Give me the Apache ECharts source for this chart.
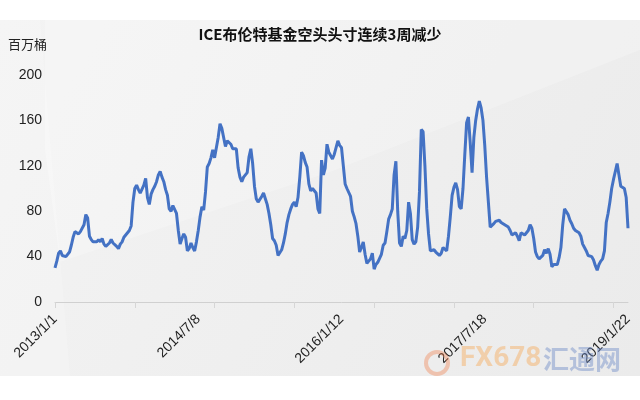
<!DOCTYPE html>
<html>
<head>
<meta charset="utf-8">
<script src="https://cdn.jsdelivr.net/npm/echarts@6/dist/echarts.min.js"></script>
<style>html,body{margin:0;padding:0;background:#fff;}#c{width:640px;height:400px;}</style>
</head>
<body>
<div id="c"></div>
<script>
// Weekly series starting 2013/1/1
var startDate = '2013/1/1';
var values = [
 30,36,43,45,41,40,40,41,44,50,
 57,62,61,60,62,63,68,77,74,58,
 55,53,52,53,55,53,56,51,49,49,
 52,55,52,53,49,47,51,53,57,59,
 61,63,67,88,100,103,99,96,96,103,
 109,92,86,95,99,102,106,112,115,110,
 106,99,94,82,80,85,84,78,63,51,
 56,60,57,45,47,52,48,45,53,63,
 75,84,81,97,119,122,127,134,127,126,
 145,157,153,145,137,142,141,139,135,134,
 135,118,110,106,110,112,114,128,135,122,
 102,91,88,87,93,96,91,86,78,68,
 56,54,50,41,42,46,52,60,70,77,
 82,86,88,84,92,110,132,129,123,119,
 104,98,100,99,96,82,78,125,112,118,
 139,132,131,126,130,136,142,138,136,137,
 104,100,100,93,80,75,69,58,44,48,
 53,42,34,33,38,43,29,33,35,34,
 42,50,52,62,73,77,82,112,124,80,
 52,49,58,56,63,88,78,55,51,53,
 66,97,152,150,120,82,60,45,46,46,
 44,44,41,43,48,48,45,58,75,94,
 101,105,99,84,82,100,130,158,163,140,
 114,145,160,170,177,171,160,138,110,88,
 66,67,69,71,71,72,70,69,68,69,
 66,63,59,60,61,58,54,61,60,59,
 61,63,68,65,56,44,40,38,39,41,
 46,43,47,42,31,33,33,33,39,48,
 68,82,81,77,72,69,65,63,62,61,
 58,51,48,45,41,40,40,37,32,28,
 33,36,38,45,70,78,88,100,108,115,
 122,112,102,103,100,92,65
];
var yTicks = [0, 40, 80, 120, 160, 200];

// category labels: weekly dates
var categories = [];
(function(){
  var p = startDate.split('/');
  var d = new Date(+p[0], +p[1]-1, +p[2]);
  for (var i = 0; i < values.length; i++) {
    var t = new Date(d.getFullYear(), d.getMonth(), d.getDate() + 7*i);
    categories.push(t.getFullYear() + '/' + (t.getMonth()+1) + '/' + t.getDate());
  }
})();

var chart = echarts.init(document.getElementById('c'), null, {renderer:'canvas'});
chart.setOption({
  animation: false,
  backgroundColor: '#ffffff',
  graphic: [
    {type:'rect', z:-10, silent:true, shape:{x:0,y:20,width:640,height:356},
     style:{fill:new echarts.graphic.LinearGradient(0,0,1,1,[{offset:0,color:'#f3f3f3'},{offset:1,color:'#ebebeb'}])}},
    {type:'polygon', z:-9, silent:true, shape:{points:[[45,20],[640,20],[640,50],[330,172],[60,262],[45,150]]},
     style:{fill:'rgba(255,255,255,0.22)'}},
    {type:'polygon', z:-9, silent:true, shape:{points:[[0,20],[40,20],[70,376],[0,376]]},
     style:{fill:'rgba(255,255,255,0.2)'}},
    {type:'text', z:5, left:8, top:38, style:{text:'百万桶', font:'13px "Noto Sans CJK SC"', fill:'#222'}},
    {type:'text', z:1, left:460, top:345, style:{text:'FX678', font:'bold 28px "Liberation Sans Narrow", "Roboto"', fill:'rgba(246,170,90,0.45)'}},
    {type:'text', z:1, left:543, top:346, style:{text:'汇通网', font:'bold 26px "Noto Sans CJK SC"', fill:'rgba(110,140,200,0.45)'}},
    {type:'circle', z:1, shape:{cx:437,cy:363,r:11}, style:{fill:'none', stroke:'rgba(240,130,80,0.4)', lineWidth:4}}
  ],
  title: {
    text: 'ICE布伦特基金空头头寸连续3周减少',
    left: 'center', top: 22,
    textStyle: {fontFamily:'"Noto Sans CJK SC"', fontWeight:'bold', fontSize:15, color:'#111'}
  },
  grid: {left:55, right:12, top:75, bottom:98, containLabel:false},
  xAxis: {
    type: 'category',
    data: categories,
    boundaryGap: false,
    axisLine: {show:true, lineStyle:{color:'#d0d0d0', width:1}},
    axisTick: {show:true, length:6, lineStyle:{color:'#d6d6d6'}, interval:function(i){return i % 44 === 0;}},
    axisLabel: {
      interval: function(i){ return i % 79 === 0; },
      rotate: 45, margin: 15,
      fontFamily: '"Liberation Sans", Arial', fontSize: 14, color: '#222'
    },
    splitLine: {show:false}
  },
  yAxis: {
    type: 'value',
    min: yTicks[0], max: yTicks[yTicks.length-1], interval: 40,
    axisLine: {show:false}, axisTick: {show:false},
    splitLine: {show:false},
    axisLabel: {margin: 13, fontFamily:'"Liberation Sans", Arial', fontSize: 14, color:'#222'}
  },
  series: [{
    type: 'line',
    data: values,
    symbol: 'none',
    lineStyle: {color:'#4472c4', width:3},
    itemStyle: {color:'#4472c4'}
  }]
});
</script>
</body>
</html>
